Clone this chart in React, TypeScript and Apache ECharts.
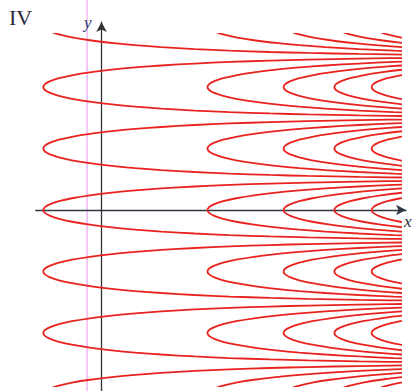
import React, { useEffect, useRef } from "react";
import * as echarts from "echarts";

// x positions (data units) of the contour vertices
const vertexX = [-0.39, 0.71, 1.22, 1.56, 1.81];
// y levels (data units) where the contour families have their vertices
const vertexY = [-9.42, -6.28, -3.14, 0, 3.14, 6.28, 9.42];
// half-width profile of one contour: [distance right of vertex, half-width in y]
const profile: [number, number][] = [
  [0, 0],
  [0.011, 0.15],
  [0.046, 0.3],
  [0.105, 0.45],
  [0.192, 0.6],
  [0.312, 0.75],
  [0.475, 0.9],
  [0.616, 1.0],
  [0.791, 1.1],
  [1.015, 1.2],
  [1.248, 1.28],
  [1.519, 1.35],
  [1.772, 1.4],
  [2.116, 1.45],
  [2.517, 1.49],
  [2.98, 1.52],
];
// plot window (data units)
const plotX = [-0.45, 2];
const plotY = [-9, 9];
const axisX = [-0.44, 2.04];
const axisY = [-9.25, 9.6];

// pixel layout
const ORIGIN_X = 101.5;
const ORIGIN_Y = 210;
const SX = 149.25;
const SY = 19.58;

function rect(xr: number[], yr: number[]) {
  return {
    left: ORIGIN_X + xr[0] * SX,
    top: ORIGIN_Y - yr[1] * SY,
    width: (xr[1] - xr[0]) * SX,
    height: (yr[1] - yr[0]) * SY,
    containLabel: false,
    outerBoundsMode: "none",
  };
}

export default function App() {
  const ref = useRef<HTMLDivElement>(null);
  useEffect(() => {
    if (!ref.current) return;
    const chart = echarts.init(ref.current, null, { renderer: "svg" });
    const series: any[] = [];
    vertexY.forEach((yv) => {
      vertexX.forEach((x0) => {
        const data: number[][] = [];
        for (let i = profile.length - 1; i >= 1; i--) {
          data.push([x0 + profile[i][0], yv - profile[i][1]]);
        }
        data.push([x0, yv]);
        for (let i = 1; i < profile.length; i++) {
          data.push([x0 + profile[i][0], yv + profile[i][1]]);
        }
        series.push({
          type: "line",
          xAxisIndex: 0,
          yAxisIndex: 0,
          data,
          showSymbol: false,
          symbol: "none",
          smooth: 0.3,
          clip: true,
          silent: true,
          lineStyle: { color: "#e8231f", width: 1.8 },
        });
      });
    });
    series.push({
      type: "line",
      xAxisIndex: 1,
      yAxisIndex: 1,
      data: [],
      symbol: "none",
    });
    chart.setOption({
      animation: false,
      backgroundColor: "#ffffff",
      grid: [rect(plotX, plotY), rect(axisX, axisY)],
      xAxis: [
        { type: "value", gridIndex: 0, min: plotX[0], max: plotX[1], show: false },
        {
          type: "value",
          gridIndex: 1,
          min: axisX[0],
          max: axisX[1],
          axisLine: {
            show: true,
            onZero: true,
            symbol: ["none", "arrow"],
            symbolSize: [8, 10],
            lineStyle: { color: "#2e3640", width: 1.3 },
          },
          axisTick: { show: false },
          axisLabel: { show: false },
          splitLine: { show: false },
        },
      ],
      yAxis: [
        { type: "value", gridIndex: 0, min: plotY[0], max: plotY[1], show: false },
        {
          type: "value",
          gridIndex: 1,
          min: axisY[0],
          max: axisY[1],
          axisLine: {
            show: true,
            onZero: true,
            symbol: ["none", "arrow"],
            symbolSize: [8, 10],
            lineStyle: { color: "#333333", width: 1.3 },
          },
          axisTick: { show: false },
          axisLabel: { show: false },
          splitLine: { show: false },
        },
      ],
      graphic: [
        {
          type: "rect",
          z: -1,
          shape: { x: 86.3, y: 0, width: 1.6, height: 391 },
          style: { fill: "#f3bdf3" },
          silent: true,
        },
        {
          type: "text",
          x: 9,
          y: 6,
          style: {
            text: "IV",
            font: '22px "Liberation Serif"',
            fill: "#2a2a38",
          },
        },
        {
          type: "text",
          x: 84,
          y: 14,
          style: {
            text: "y",
            font: 'italic 17px "Liberation Serif"',
            fill: "#2b3a6e",
          },
        },
        {
          type: "text",
          x: 404,
          y: 213,
          style: {
            text: "x",
            font: 'italic 17px "Liberation Serif"',
            fill: "#2b2b38",
          },
        },
      ],
      series,
    });
    return () => chart.dispose();
  }, []);
  return (
    <div
      ref={ref}
      style={{ position: "fixed", left: 0, top: 0, width: 412, height: 391 }}
    />
  );
}
